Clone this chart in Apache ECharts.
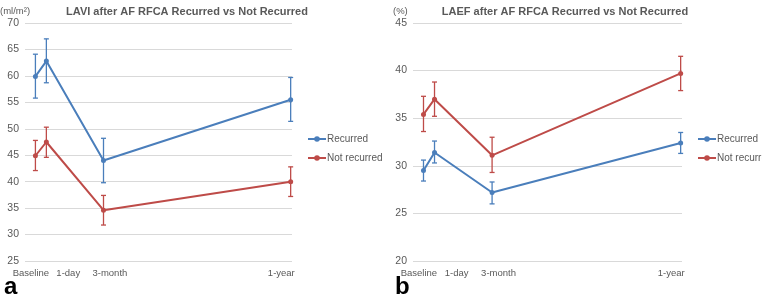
<!DOCTYPE html>
<html lang="en">
<head>
  <meta charset="UTF-8">
  <title>LAVI and LAEF after AF RFCA</title>
  <style>
    html, body { margin: 0; padding: 0; background: #fff; }
    #chart { width: 762px; height: 301px; }
  </style>
</head>
<body>
  <div id="chart"></div>

  <script src="https://cdn.jsdelivr.net/npm/echarts@6/dist/echarts.min.js"></script>
  <script>
    // Time points (placed along a 0-100 axis as in the original figure)
    const timeLabels = ['Baseline', '1-day', '3-month', '1-year'];
    const xPos = [3.9, 8.0, 29.4, 99.5];
    const labelPos = [2.2, 16.2, 31.8, 96];

    // Panel a: LAVI (ml/m²)
    const laviRecurred = [59.9, 62.8, 44.0, 55.5];
    const laviRecurredLow = [55.8, 58.7, 39.8, 51.4];
    const laviRecurredHigh = [64.1, 67.0, 48.2, 59.7];
    const laviNot = [44.9, 47.5, 34.6, 40.0];
    const laviNotLow = [42.1, 44.6, 31.8, 37.2];
    const laviNotHigh = [47.8, 50.3, 37.4, 42.8];

    // Panel b: LAEF (%)
    const laefRecurred = [29.5, 31.4, 27.2, 32.4];
    const laefRecurredLow = [28.4, 30.3, 26.0, 31.3];
    const laefRecurredHigh = [30.6, 32.6, 28.3, 33.5];
    const laefNot = [35.4, 37.0, 31.1, 39.7];
    const laefNotLow = [33.6, 35.2, 29.3, 37.9];
    const laefNotHigh = [37.3, 38.8, 33.0, 41.5];

    const blue = '#4a7ebb';
    const red = '#be4b48';
    const textColor = '#595959';
    const font = "'Liberation Sans', Arial, sans-serif";

    const points = vals => vals.map((v, i) => [xPos[i], v]);
    const ranges = (lo, hi) => lo.map((l, i) => [xPos[i], l, hi[i]]);

    function lineSeries(name, vals, color, idx) {
      return {
        name: name,
        type: 'line',
        xAxisIndex: idx,
        yAxisIndex: idx,
        data: points(vals),
        symbol: 'circle',
        symbolSize: 5,
        lineStyle: { color: color, width: 2 },
        itemStyle: { color: color },
        z: 3
      };
    }

    function errorSeries(name, lo, hi, color, idx) {
      return {
        name: name,
        type: 'custom',
        xAxisIndex: idx,
        yAxisIndex: idx,
        data: ranges(lo, hi),
        encode: { x: 0, y: [1, 2] },
        renderItem: (params, api) => {
          const top = api.coord([api.value(0), api.value(2)]);
          const bot = api.coord([api.value(0), api.value(1)]);
          const w = 2.5;
          const style = { stroke: color, lineWidth: 1.3, fill: null };
          return {
            type: 'group',
            children: [
              { type: 'line', shape: { x1: top[0], y1: top[1], x2: bot[0], y2: bot[1] }, style: style },
              { type: 'line', shape: { x1: top[0] - w, y1: top[1], x2: top[0] + w, y2: top[1] }, style: style },
              { type: 'line', shape: { x1: bot[0] - w, y1: bot[1], x2: bot[0] + w, y2: bot[1] }, style: style }
            ]
          };
        },
        z: 2
      };
    }

    function xAxis(idx) {
      return {
        type: 'value',
        gridIndex: idx,
        min: 0,
        max: 100,
        axisLine: { show: false },
        axisTick: { show: false },
        splitLine: { show: false },
        axisLabel: {
          customValues: labelPos,
          formatter: v => timeLabels[labelPos.indexOf(v)] || '',
          showMinLabel: true,
          showMaxLabel: true,
          hideOverlap: false,
          color: textColor,
          fontFamily: font,
          fontSize: 9.5,
          margin: 7
        }
      };
    }

    function yAxis(idx, min, max) {
      return {
        type: 'value',
        gridIndex: idx,
        min: min,
        max: max,
        interval: 5,
        axisLine: { show: false },
        axisTick: { show: false },
        splitLine: { lineStyle: { color: '#d9d9d9', width: 1 } },
        axisLabel: { color: textColor, fontFamily: font, fontSize: 10.5, margin: 6 }
      };
    }

    const chart = echarts.init(document.getElementById('chart'));
    chart.setOption({
      animation: false,
      title: [
        { text: 'LAVI after AF RFCA Recurred vs Not Recurred', left: 182, top: 1, textAlign: 'center',
          textStyle: { color: textColor, fontFamily: font, fontSize: 11, fontWeight: 'bold' } },
        { text: 'LAEF after AF RFCA Recurred vs Not Recurred', left: 560, top: 1, textAlign: 'center',
          textStyle: { color: textColor, fontFamily: font, fontSize: 11, fontWeight: 'bold' } },
        { text: '(ml/m²)', left: 0, top: 6, padding: 0,
          textStyle: { color: textColor, fontFamily: font, fontSize: 9.5, fontWeight: 'normal' } },
        { text: '(%)', left: 393, top: 6, padding: 0,
          textStyle: { color: textColor, fontFamily: font, fontSize: 9.5, fontWeight: 'normal' } },
        { text: 'a', left: 4, top: 275, padding: 0,
          textStyle: { color: '#000', fontFamily: font, fontSize: 24, fontWeight: 'bold' } },
        { text: 'b', left: 395, top: 275, padding: 0,
          textStyle: { color: '#000', fontFamily: font, fontSize: 24, fontWeight: 'bold' } }
      ],
      legend: [
        { left: 302, top: 129, orient: 'vertical', itemWidth: 18, itemHeight: 7, itemGap: 9,
          data: ['Recurred', 'Not recurred'],
          textStyle: { color: textColor, fontFamily: font, fontSize: 10, padding: [0, 0, 0, -4] } },
        { left: 692, top: 129, orient: 'vertical', itemWidth: 18, itemHeight: 7, itemGap: 9,
          data: ['Recurred', 'Not recurred'],
          textStyle: { color: textColor, fontFamily: font, fontSize: 10, padding: [0, 0, 0, -4] } }
      ],
      grid: [
        { left: 25, right: 470, top: 23, bottom: 40 },
        { left: 413, right: 80, top: 23, bottom: 40 }
      ],
      xAxis: [xAxis(0), xAxis(1)],
      yAxis: [yAxis(0, 25, 70), yAxis(1, 20, 45)],
      series: [
        lineSeries('Recurred', laviRecurred, blue, 0),
        lineSeries('Not recurred', laviNot, red, 0),
        errorSeries('Recurred', laviRecurredLow, laviRecurredHigh, blue, 0),
        errorSeries('Not recurred', laviNotLow, laviNotHigh, red, 0),
        lineSeries('Recurred', laefRecurred, blue, 1),
        lineSeries('Not recurred', laefNot, red, 1),
        errorSeries('Recurred', laefRecurredLow, laefRecurredHigh, blue, 1),
        errorSeries('Not recurred', laefNotLow, laefNotHigh, red, 1)
      ]
    });
  </script>
</body>
</html>
